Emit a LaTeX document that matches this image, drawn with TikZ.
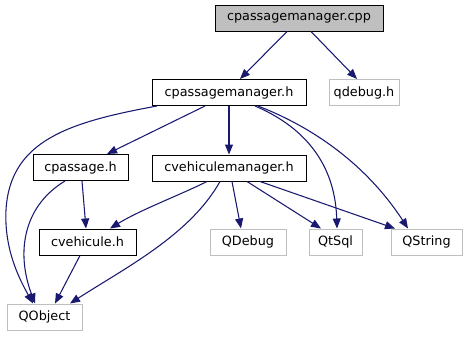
\documentclass[tikz,border=0pt]{standalone}
\usepackage{fontspec}
\setmainfont{DejaVu Sans}
\usetikzlibrary{arrows.meta,calc}
\definecolor{edgeblue}{HTML}{191970}
\definecolor{grey75}{HTML}{BFBFBF}
\begin{document}
\begin{tikzpicture}[x=0.75pt,y=-0.75pt,
  file/.style={draw=black,line width=0.75pt,fill=white,rectangle,inner sep=0pt,
    minimum height=26*0.75pt,font=\fontsize{9.6}{11}\selectfont},
  current/.style={file,fill=grey75},
  external/.style={file,draw=grey75},
  edge/.style={draw=edgeblue,line width=0.8pt,
    -{Triangle[length=7.5pt,width=6pt]}}]
\useasboundingbox (0,0) rectangle (467,336);
% files
\node[current,minimum width=168*0.75pt] (cpp) at (299,18) {cpassagemanager.cpp};
\node[file,minimum width=154*0.75pt] (mgr) at (229,92.5) {cpassagemanager.h};
\node[external,minimum width=70*0.75pt] (qdebugh) at (364,92.5) {qdebug.h};
\node[file,minimum width=95*0.75pt] (cpassage) at (80.5,167.5) {cpassage.h};
\node[file,minimum width=154*0.75pt] (cvm) at (229,168) {cvehiculemanager.h};
\node[file,minimum width=97*0.75pt] (cvehicule) at (87.5,242) {cvehicule.h};
\node[external,minimum width=76*0.75pt] (QDebug) at (248,242) {QDebug};
\node[external,minimum width=53*0.75pt] (QtSql) at (335.5,242) {QtSql};
\node[external,minimum width=71*0.75pt] (QString) at (426.5,242) {QString};
\node[external,minimum width=75*0.75pt] (QObject) at (44.5,317) {QObject};
% includes
\draw[edge] ($(cpp.south)+(-12,0)$) -- ($(mgr.north)+(11,0)$);
\draw[edge] ($(cpp.south)+(12,0)$) -- ($(qdebugh.north)+(-7,0)$);
\draw[edge] ($(mgr.south)+(-72,0)$) .. controls (70,122) and (10,140) .. (6,210)
  .. controls (4,250) and (20,280) .. ($(QObject.north)+(-11.5,0)$);
\draw[edge] ($(mgr.south)+(-24,0)$) -- ($(cpassage.north)+(26.5,0)$);
\draw[edge] (mgr.south) -- (cvm.north);
\draw[edge] ($(mgr.south)+(26,0)$) .. controls (300,125) and (335,160) .. ($(QtSql.north)+(1.5,0)$);
\draw[edge] ($(mgr.south)+(29,0)$) .. controls (320,130) and (370,170) .. ($(QString.north)+(-18.5,0)$);
\draw[edge] ($(cpassage.south)+(1.5,0)$) -- ($(cvehicule.north)+(-1.5,0)$);
\draw[edge] ($(cpassage.south)+(-15.5,0)$) .. controls (25,205) and (15,250) .. ($(QObject.north)+(-9.5,0)$);
\draw[edge] ($(cvm.south)+(-22,0)$) .. controls (180,195) and (140,210) .. ($(cvehicule.north)+(22.5,0)$);
\draw[edge] ($(cvm.south)+(-9,0)$) .. controls (190,235) and (125,268) .. ($(QObject.north)+(25.5,0)$);
\draw[edge] ($(cvm.south)+(3,0)$) -- ($(QDebug.north)+(-7,0)$);
\draw[edge] ($(cvm.south)+(18,0)$) -- ($(QtSql.north)+(-14.5,0)$);
\draw[edge] ($(cvm.south)+(31,0)$) -- ($(QString.north)+(-31.5,0)$);
\draw[edge] ($(cvehicule.south)+(-7.5,0)$) -- ($(QObject.north)+(10.5,0)$);
\end{tikzpicture}
\end{document}
